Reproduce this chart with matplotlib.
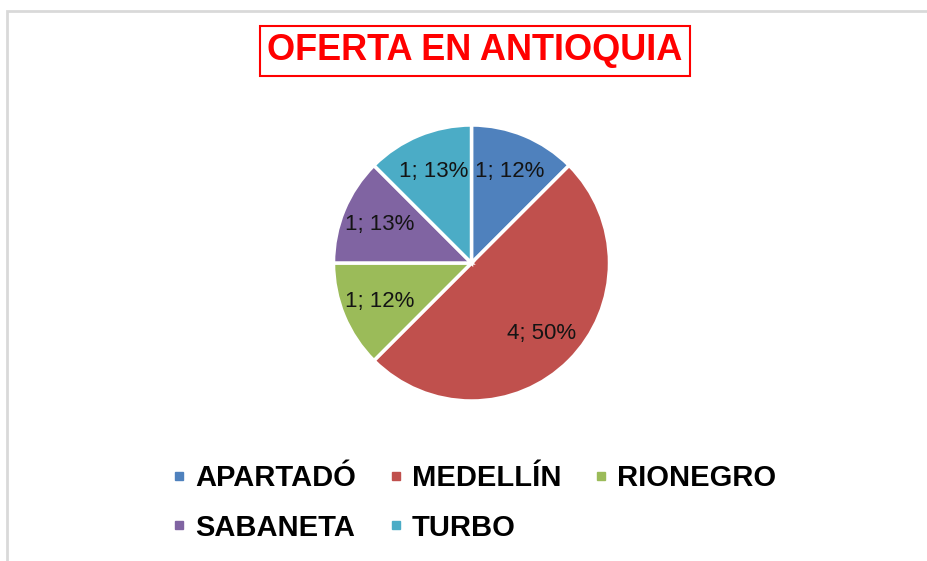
import matplotlib
matplotlib.use("Agg")
import matplotlib.pyplot as plt
from matplotlib.lines import Line2D
from matplotlib.patches import Rectangle

# data
municipios = ["APARTADÓ", "MEDELLÍN", "RIONEGRO", "SABANETA", "TURBO"]
ofertas = [1, 4, 1, 1, 1]
pct_shown = [12, 50, 12, 13, 13]   # Excel-rounded percentages as displayed
colores = ["#4F81BD", "#C0504D", "#9BBB59", "#8064A2", "#4BACC6"]

W, H = 927, 561
fig = plt.figure(figsize=(W / 100, H / 100), dpi=100)
fig.patch.set_facecolor("white")

# light grey chart-area frame (top + left edges visible)
fig.add_artist(Rectangle((6.5 / W, -0.05), 1.1, 1 - 11 / H + 0.05,
                         transform=fig.transFigure, fill=False,
                         edgecolor="#d9d9d9", linewidth=2))

# pie axes: centre ~(471, 263) px, radius ~138 px
cx, cy, r = 471.5, 263, 138
pad = 1.03
ax = fig.add_axes([(cx - r * pad) / W, (H - cy - r * pad) / H,
                   2 * r * pad / W, 2 * r * pad / H])

lbls = iter(f"{v}; {p}%" for v, p in zip(ofertas, pct_shown))
wedges, _, autotexts = ax.pie(
    ofertas, colors=colores, startangle=90, counterclock=False,
    autopct=lambda _p: next(lbls), pctdistance=0.72,
    wedgeprops=dict(edgecolor="white", linewidth=2.5),
    textprops=dict(fontsize=16, color="#141414",
                   family=["Liberation Sans", "DejaVu Sans"]))
ax.set_xlim(-pad, pad)
ax.set_ylim(-pad, pad)
ax.set_aspect("equal")
ax.axis("off")

# title in red box
fig.text(475 / W, 1 - 51 / H, "OFERTA EN ANTIOQUIA", ha="center", va="center",
         fontsize=26, fontweight="bold", color="#FF0000",
         family=["Liberation Sans", "DejaVu Sans"],
         bbox=dict(boxstyle="square,pad=0.2", facecolor="white",
                   edgecolor="#FF0000", linewidth=1.5))

# legend, row-major order like Excel
order = [0, 3, 1, 4, 2]
handles = [Line2D([], [], marker="s", linestyle="", markersize=6,
                  color=colores[i]) for i in order]
names = [municipios[i] for i in order]
fig.legend(handles, names, loc="center", bbox_to_anchor=(474 / W, 1 - 503 / H),
           ncol=3, frameon=False, handlelength=0.5, handletextpad=0.3,
           columnspacing=1.1, labelspacing=0.72,
           prop=dict(size=21, weight="bold",
                     family=["Liberation Sans", "DejaVu Sans"]))

fig.savefig("out.png", dpi=100)
